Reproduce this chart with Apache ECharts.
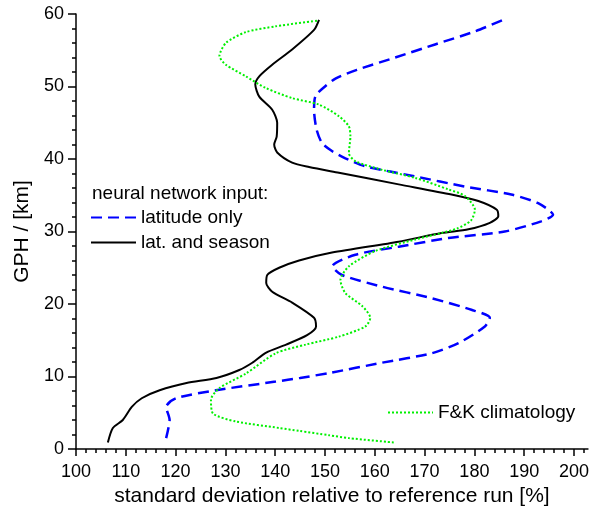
<!DOCTYPE html>
<html>
<head>
<meta charset="utf-8">
<script src="https://cdn.jsdelivr.net/npm/echarts@6/dist/echarts.min.js"></script>
<style>
html,body{margin:0;padding:0;background:#fff;}
#chart{width:592px;height:512px;}
</style>
</head>
<body>
<div id="chart"></div>
<script>
// ---- data (value = std deviation relative to reference run [%], gph = km) ----
var latOnlyStd = [118.1,118.8,118.1,120.1,128.1,140.1,145.0,151.0,161.4,171.4,176.8,182.1,183.1,179.4,171.4,161.4,153.4,151.5,156.1,164.8,174.8,186.1,193.4,195.8,192.8,187.4,178.1,168.1,158.1,154.1,151.4,149.4,148.3,147.8,148.1,150.0,152.1,156.4,164.1,172.1,180.1,185.8];
var latOnlyGph = [1.5,4.0,5.8,7.0,8.1,9.3,9.8,10.5,11.9,13.2,14.6,16.9,18.1,19.2,20.8,22.4,24.0,25.2,26.8,27.9,29.1,30.0,31.4,32.3,33.9,35.1,36.2,37.6,39.0,40.1,41.1,42.2,44.1,46.8,48.7,50.0,51.1,52.3,54.0,55.8,57.6,59.2];

var latSeasonStd = [106.4,107.4,109.4,111.2,113.2,116.8,122.2,128.2,132.8,135.4,138.2,142.2,146.4,148.2,147.8,143.4,139.4,138.2,138.4,140.8,144.8,151.4,164.8,173.4,178.8,183.1,184.8,184.5,180.8,175.4,164.8,152.8,146.8,143.4,140.4,139.8,140.3,140.4,139.4,136.8,136.0,136.8,139.4,143.4,147.8,148.8];
var latSeasonGph = [0.9,2.9,4.0,5.8,7.0,8.1,9.1,9.8,10.9,11.9,13.3,14.4,15.7,16.9,18.1,20.2,21.7,22.9,24.0,25.0,26.0,27.1,28.6,29.8,30.3,31.2,32.1,33.0,34.2,35.1,36.5,38.1,38.9,39.5,40.9,42.0,43.1,45.0,46.8,48.6,50.3,51.4,53.0,55.1,57.8,59.2];

var fkStd = [163.8,154.8,150.8,144.8,140.8,132.1,127.5,127.1,128.8,134.1,140.1,146.1,152.8,158.1,159.1,157.5,154.1,153.1,154.8,160.1,168.1,173.4,176.5,179.3,180.1,178.1,174.8,168.1,161.5,156.1,154.8,155.1,154.8,152.8,148.8,143.4,138.1,134.1,130.1,128.8,130.1,134.1,140.1,148.6];
var fkGph = [0.9,1.5,1.9,2.5,2.9,3.8,4.9,6.8,8.4,10.4,13.2,14.4,15.5,16.9,18.1,19.7,21.5,23.3,25.2,27.3,28.9,29.8,30.4,31.5,33.0,34.9,35.8,37.4,38.5,39.7,40.8,43.1,44.5,45.9,47.5,48.4,49.8,51.4,53.0,54.2,56.0,57.5,58.3,59.1];

var xMajorTicks = [100,110,120,130,140,150,160,170,180,190,200];
var xMinorTicks = [102,104,106,108,112,114,116,118,122,124,126,128,132,134,136,138,142,144,146,148,152,154,156,158,162,164,166,168,172,174,176,178,182,184,186,188,192,194,196,198,202];
var yTickLabels = [0,10,20,30,40,50,60];

var seriesNames = ['latitude only', 'lat. and season', 'F&K climatology'];
var legendTitle = 'neural network input:';
var xTitle = 'standard deviation relative to reference run [%]';
var yTitle = 'GPH / [km]';

function pairs(xs, ys){ var out=[]; for (var i=0;i<xs.length;i++) out.push([xs[i], ys[i]]); return out; }

var FONT = '"Liberation Sans", Arial, sans-serif';
var chart = echarts.init(document.getElementById('chart'), null, {renderer:'canvas'});
var xCommon = {
  type:'value', min:100, max:202.8, position:'bottom',
  splitLine:{show:false}
};
var legendCommon = {
  orient:'vertical', padding:0,
  itemWidth:45, itemHeight:14, itemGap:6,
  itemStyle:{opacity:0},
  textStyle:{fontFamily:FONT, fontSize:19, color:'#000'}
};
chart.setOption({
  animation:false,
  backgroundColor:'#fff',
  textStyle:{fontFamily:FONT},
  title:{
    text:legendTitle, left:92, top:184, padding:0,
    textStyle:{fontFamily:FONT, fontSize:19, fontWeight:'normal', color:'#000'}
  },
  legend:[
    Object.assign({}, legendCommon, {data:[seriesNames[0], seriesNames[1]], left:90, top:208}),
    Object.assign({}, legendCommon, {data:[seriesNames[2]], left:387, top:403})
  ],
  grid:{left:76, right:2, top:14, bottom:63, containLabel:false},
  xAxis:[
    Object.assign({}, xCommon, {
      name:xTitle, nameLocation:'middle', nameGap:34,
      nameTextStyle:{fontFamily:FONT, fontSize:21, color:'#000'},
      axisLine:{show:true, lineStyle:{color:'#000', width:1.5}},
      axisTick:{show:true, inside:false, length:7, customValues:xMajorTicks, lineStyle:{color:'#000', width:1.5}},
      axisLabel:{show:true, customValues:xMajorTicks, margin:14, fontFamily:FONT, fontSize:18, color:'#000'}
    }),
    Object.assign({}, xCommon, {
      axisLine:{show:false},
      axisTick:{show:true, inside:false, length:4, customValues:xMinorTicks, lineStyle:{color:'#000', width:1.5}},
      axisLabel:{show:false}
    })
  ],
  yAxis:{
    type:'value', min:0, max:60, interval:10,
    name:yTitle, nameLocation:'middle', nameGap:42, nameRotate:90,
    nameTextStyle:{fontFamily:FONT, fontSize:21, color:'#000'},
    axisLine:{show:true, lineStyle:{color:'#000', width:1.5}},
    axisTick:{show:true, inside:false, length:8, lineStyle:{color:'#000', width:1.5}},
    minorTick:{show:true, splitNumber:5, length:4, lineStyle:{color:'#000', width:1.5}},
    axisLabel:{margin:12, fontFamily:FONT, fontSize:18, color:'#000',
      formatter:function(v){ return yTickLabels.indexOf(v) >= 0 ? String(v) : ''; }},
    splitLine:{show:false}
  },
  series:[{
    name:seriesNames[0], type:'line', xAxisIndex:0, symbol:'none', smooth:0.25,
    data:pairs(latOnlyStd, latOnlyGph),
    itemStyle:{color:'#0000ff'},
    lineStyle:{color:'#0000ff', width:2.5, type:[11,6]}
  },{
    name:seriesNames[1], type:'line', xAxisIndex:0, symbol:'none', smooth:0.25,
    data:pairs(latSeasonStd, latSeasonGph),
    itemStyle:{color:'#000000'},
    lineStyle:{color:'#000000', width:2}
  },{
    name:seriesNames[2], type:'line', xAxisIndex:0, symbol:'none', smooth:0.25,
    data:pairs(fkStd, fkGph),
    itemStyle:{color:'#00f000'},
    lineStyle:{color:'#00f000', width:2, type:[2,2]}
  }]
});
</script>
</body>
</html>
